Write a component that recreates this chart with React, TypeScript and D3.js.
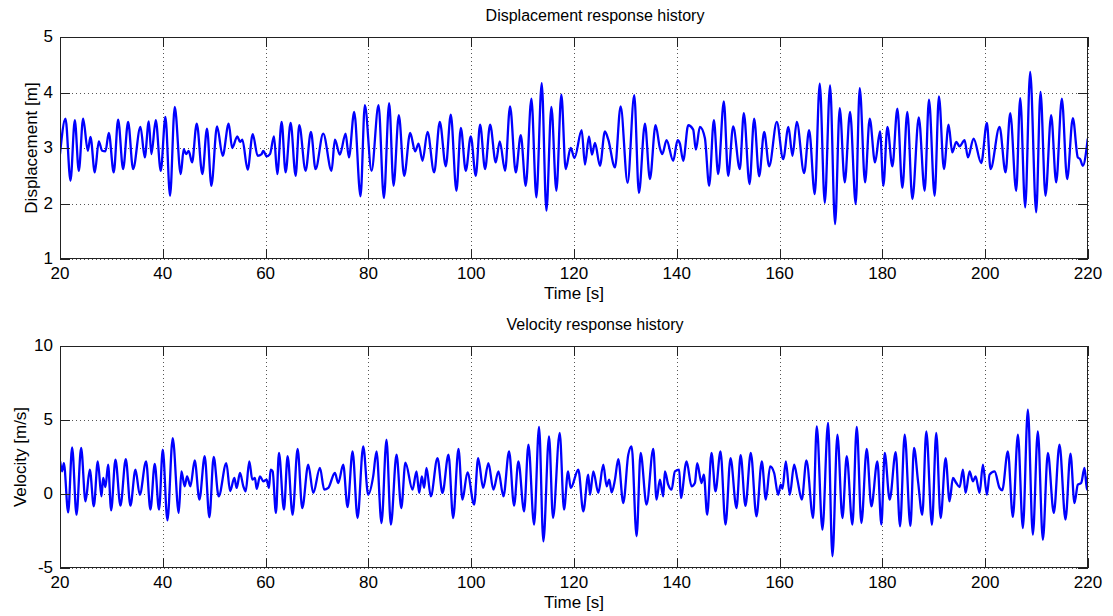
import React from "react";
import * as d3 from "d3";

// Displacement response: sampled turning points of the trace, time [s] and displacement [m]
const dispTime = [
  20.0, 21.07, 22.04, 22.88, 23.66, 24.5, 25.41, 25.93, 26.77, 27.55, 28.2, 28.84, 29.49, 30.46, 31.31,
  32.28, 33.25, 34.22, 35.65, 36.49, 37.27, 37.78, 38.63, 39.6, 40.51, 41.41, 42.32, 43.49, 44.07, 44.52,
  45.04, 45.69, 46.6, 47.7, 48.6, 49.45, 50.55, 51.65, 52.82, 53.5, 54.5, 55.02, 55.47, 56.51, 57.5,
  58.45, 59.23, 59.55, 60.2, 60.85, 61.63, 62.27, 63.12, 63.89, 64.87, 65.84, 66.55, 67.78, 68.82, 69.72,
  71.21, 72.83, 73.48, 74.45, 75.56, 76.2, 77.24, 78.47, 79.31, 80.61, 81.97, 83.01, 84.04, 84.89, 85.92,
  86.96, 88.13, 89.1, 89.75, 90.53, 91.5, 92.79, 93.89, 95.06, 96.03, 97.13, 97.98, 98.95, 99.92, 100.89,
  101.73, 102.7, 103.68, 104.78, 105.56, 106.59, 107.56, 108.67, 109.64, 110.61, 111.71, 112.68, 113.72,
  114.63, 115.6, 116.57, 117.54, 118.38, 119.35, 120.1, 121.49, 122.14, 122.91, 123.5, 124.08, 125.05,
  126.02, 126.67, 127.97, 129.07, 130.43, 131.72, 132.63, 133.8, 134.77, 135.87, 136.71, 137.17, 138.01,
  139.3, 140.15, 140.6, 141.25, 142.22, 143.19, 143.71, 144.49, 145.46, 146.3, 147.21, 148.05, 149.15,
  149.99, 150.97, 152.26, 153.04, 154.15, 155.05, 156.02, 157.0, 157.97, 159.46, 160.69, 161.72, 162.5,
  163.34, 164.77, 165.74, 166.84, 167.81, 168.79, 169.82, 170.79, 171.7, 172.67, 173.71, 174.81, 175.59,
  176.63, 177.53, 178.57, 179.54, 180.19, 180.97, 181.94, 182.91, 183.88, 184.85, 185.83, 187.08, 188.22,
  189.06, 190.16, 191.0, 191.97, 192.88, 193.59, 194.37, 195.02, 195.99, 196.64, 197.74, 199.23, 200.33,
  201.04, 202.79, 203.96, 204.87, 206.03, 206.81, 207.78, 208.75, 209.92, 210.76, 211.73, 212.83, 213.81,
  214.91, 215.94, 217.05, 218.02, 218.47, 218.99, 219.96,
];
const dispValue = [
  2.89, 3.53, 2.41, 3.5, 2.59, 3.53, 2.95, 3.2, 2.56, 3.12, 2.95, 2.94, 3.27, 2.56, 3.51,
  2.62, 3.47, 2.62, 3.38, 2.83, 3.48, 2.89, 3.5, 2.59, 3.56, 2.14, 3.74, 2.53, 2.98, 2.89,
  2.95, 2.74, 3.44, 2.53, 3.35, 2.32, 3.39, 2.86, 3.44, 3.0, 3.21, 3.11, 3.15, 2.61, 3.25,
  2.86, 2.89, 2.95, 2.85, 2.89, 3.21, 2.53, 3.47, 2.56, 3.45, 2.5, 3.41, 2.59, 3.29, 2.62,
  3.26, 2.59, 3.15, 2.88, 3.26, 2.83, 3.65, 2.13, 3.77, 2.59, 3.77, 2.1, 3.81, 2.32, 3.59,
  2.5, 3.27, 2.94, 3.08, 2.77, 3.29, 2.56, 3.47, 2.67, 3.6, 2.23, 3.36, 2.59, 3.21, 2.5,
  3.42, 2.62, 3.42, 2.74, 3.12, 2.59, 3.75, 2.56, 3.23, 2.32, 3.89, 2.11, 4.17,
  1.87, 3.74, 2.23, 3.96, 2.62, 3.0, 2.82, 3.32, 2.7, 3.21, 2.88, 3.09, 2.68,
  3.3, 3.15, 2.65, 3.75, 2.37, 3.95, 2.19, 3.44, 2.44, 3.41, 3.0, 2.89, 3.14,
  2.77, 3.14, 3.08, 2.77, 3.41, 3.33, 2.97, 3.38, 3.18, 2.32, 3.5, 2.53, 3.84,
  2.5, 3.39, 2.62, 3.63, 2.35, 3.53, 2.49, 3.29, 2.67, 3.47, 2.8, 3.38, 2.86,
  3.47, 2.55, 3.32, 2.17, 4.16, 2.01, 4.13, 1.63, 3.72, 2.38, 3.65, 1.99, 4.08,
  2.38, 3.53, 2.74, 3.3, 2.32, 3.38, 2.67, 3.71, 2.28, 3.65, 2.08, 3.55, 2.23,
  3.87, 2.14, 3.93, 2.62, 3.42, 2.92, 3.11, 3.03, 3.14, 2.83, 3.17, 2.73, 3.45,
  2.62, 3.38, 2.56, 3.63, 2.23, 3.9, 1.93, 4.37, 1.84, 4.01, 2.14, 3.59, 2.38,
  3.89, 2.44, 3.54, 2.83, 2.8, 2.68, 3.17,
];

// Velocity response: sampled turning points of the trace, time [s] and velocity [m/s]
const velTime = [
  20.03, 20.42, 20.75, 21.59, 22.36, 23.21, 24.11, 24.96, 25.8, 26.58, 27.35, 28.07, 28.39, 28.84, 29.36,
  29.95, 30.79, 31.76, 32.8, 33.7, 34.68, 35.52, 36.75, 37.59, 38.43, 39.27, 39.99, 40.9, 41.93, 43.1,
  43.62, 44.26, 44.72, 45.37, 46.21, 47.12, 48.15, 49.06, 49.9, 50.87, 52.36, 53.1, 53.92, 54.37, 55.02,
  55.67, 56.12, 56.83, 57.41, 57.93, 58.26, 58.9, 59.55, 60.2, 60.65, 60.98, 61.37, 62.01, 62.6, 63.57,
  64.28, 65.25, 66.23, 67.13, 68.3, 69.27, 70.57, 71.41, 72.19, 73.48, 74.13, 75.1, 75.94, 76.92, 77.89,
  78.99, 79.96, 80.93, 81.58, 82.55, 83.52, 84.37, 85.47, 86.4, 87.2, 88.58, 89.36, 89.88, 90.4, 90.85,
  91.3, 92.14, 93.44, 94.41, 95.58, 96.49, 97.52, 98.3, 99.27, 100.57, 101.35, 102.32, 103.35, 104.32,
  105.3, 106.27, 107.37, 108.34, 109.18, 110.29, 111.13, 112.23, 113.2, 114.04, 115.14, 115.92, 117.22,
  118.06, 118.84, 119.36, 120.84, 121.81, 122.78, 123.11, 123.76, 124.73, 125.7, 126.35, 126.86, 127.32,
  127.97, 128.61, 129.59, 130.56, 131.21, 132.18, 132.96, 134.12, 135.42, 136.06, 136.71, 137.36, 137.68,
  138.33, 138.98, 139.63, 140.47, 140.79, 141.9, 142.87, 143.52, 143.97, 144.81, 145.26, 145.91, 146.75,
  147.53, 148.5, 149.48, 150.45, 151.61, 152.42, 153.35, 154.4, 155.5, 156.54, 157.32, 158.16, 158.94,
  159.72, 160.23, 160.56, 161.21, 161.98, 162.83, 163.47, 164.32, 165.22, 166.52, 167.23, 168.33, 169.43,
  170.28, 171.25, 172.22, 173.06, 174.16, 175.01, 175.91, 176.95, 177.86, 179.02, 179.8, 180.45, 181.42,
  182.59, 183.43, 184.34, 185.45, 186.15, 186.95, 187.76, 188.54, 189.64, 190.48, 191.33, 192.3, 193.07,
  193.72, 194.37, 195.02, 195.67, 196.18, 196.96, 197.61, 198.13, 198.91, 199.55, 200.33, 200.85, 201.82,
  202.79, 203.31, 204.41, 205.38, 206.36, 207.33, 208.3, 209.27, 210.24, 211.22, 212.19, 213.35, 214.45,
  215.62, 216.59, 217.37, 218.02, 218.67, 219.32, 219.8, 220.0,
];
const velValue = [
  2.21, 1.53, 2.09, -1.24, 3.15, -1.4, 3.11, -0.5, 1.64, -0.83, 2.21, -0.16, 1.08, 0.47, 1.98,
  -1.1, 2.32, -0.79, 2.36, -0.79, 1.64, -0.05, 2.21, -1.06, 2.03, -1.06, 3.0, -1.78, 3.78, -1.28,
  1.53, 0.52, 1.19, 0.52, 2.27, -0.38, 2.55, -1.58, 2.5, -0.16, 2.09, 0.2, 1.08, 0.41, 1.42,
  0.52, 0.18, 2.21, 0.97, 1.08, 0.34, 1.19, 0.86, 0.97, 0.41, 1.64, 1.53, -1.28, 2.77, -1.06,
  2.55, -1.4, 3.04, -0.95, 1.98, 0.07, 1.76, 0.29, 0.41, 1.42, 0.74, 1.98, -0.88, 2.88, -1.62,
  3.22, -0.05, 1.19, 2.88, -1.96, 3.67, -2.07, 2.66, -0.95, 2.12, 0.29, 1.53, 0.07, 1.19, 0.41,
  1.76, -0.16, 2.43, 0.07, 2.66, -1.62, 3.04, -0.38, 1.46, -0.72, 2.43, 0.41, 2.09, 0.29,
  1.53, -0.16, 2.88, -0.79, 2.21, -1.17, 3.33, -2.07, 4.53, -3.2, 3.9, -1.62, 4.12,
  -1.06, 1.53, 0.41, 1.64, -1.17, 1.31, -0.05, 1.53, 0.07, 1.98, 0.52, 0.97, 0.11,
  0.97, 2.36, -0.61, 2.66, 3.22, -2.86, 2.77, -0.72, 3.04, -0.38, 0.97, -0.16, 1.53,
  0.63, 0.29, 1.53, 1.64, -0.27, 2.21, 0.52, 0.74, 2.09, 0.74, 1.31, -1.4, 2.77,
  0.18, 2.88, -2.07, 2.43, -0.95, 2.62, -0.8, 2.78, -1.51, 2.21, -0.38, 1.87, 1.42,
  -0.05, 0.63, 0.34, 2.21, -0.05, 1.98, 0.97, -0.38, 2.27, -1.62, 4.57, -2.41, 4.8,
  -4.21, 4.01, -1.62, 2.55, -2.07, 4.53, -1.96, 3.04, -0.83, 2.21, -2.07, 2.77, -0.38,
  2.82, -2.18, 4.01, -2.15, 3.11, 0.8, -1.4, 4.23, -2.07, 4.12, -1.62, 2.43, -0.5,
  1.08, 0.74, 0.47, 1.64, 0.07, 1.53, 0.86, 1.19, 0.07, 1.98, -0.05, 1.31, 1.53,
  0.41, 0.25, 2.88, -1.55, 4.01, -2.3, 5.7, -2.75, 4.23, -3.09, 2.77, -1.28, 3.33,
  -1.73, 2.73, -0.61, 0.63, 0.74, 1.76, 0.29, 1.2,
];

const timeTicks = [20, 40, 60, 80, 100, 120, 140, 160, 180, 200, 220];
const dispTicks = [1, 2, 3, 4, 5];
const velTicks = [-5, 0, 5, 10];

const FONT = "'Liberation Sans', Arial, Helvetica, sans-serif";
const W = 1113;
const H = 616;
const LEFT = 60;
const RIGHT = 1088;
const TITLE_X = 595;

type PanelProps = {
  top: number;
  bottom: number;
  yDomain: [number, number];
  yTicks: number[];
  times: number[];
  values: number[];
  title: string;
  yLabel: string;
  yLabelX: number;
};

function Panel({ top, bottom, yDomain, yTicks, times, values, title, yLabel, yLabelX }: PanelProps) {
  const x = d3.scaleLinear().domain([20, 220]).range([LEFT, RIGHT]);
  const y = d3.scaleLinear().domain(yDomain).range([bottom, top]);
  const pts = times.map((t, i) => [t, values[i]] as [number, number]);
  const path = d3
    .line<[number, number]>()
    .x((d) => x(d[0]))
    .y((d) => y(d[1]))
    .curve(d3.curveMonotoneX)(pts) as string;
  const tickLen = 10;
  const midY = (top + bottom) / 2;
  const clipId = `clip-${top}`;
  return (
    <g>
      <defs>
        <clipPath id={clipId}>
          <rect x={LEFT} y={top} width={RIGHT - LEFT} height={bottom - top} />
        </clipPath>
      </defs>
      {/* dotted grid */}
      {timeTicks.map((t) => (
        <line
          key={`gx${t}`}
          x1={Math.round(x(t)) + 0.5}
          x2={Math.round(x(t)) + 0.5}
          y1={top}
          y2={bottom}
          stroke="#555"
          strokeWidth={1}
          strokeDasharray="1 3"
        />
      ))}
      {yTicks.map((v) => (
        <line
          key={`gy${v}`}
          x1={LEFT}
          x2={RIGHT}
          y1={Math.round(y(v)) + 0.5}
          y2={Math.round(y(v)) + 0.5}
          stroke="#555"
          strokeWidth={1}
          strokeDasharray="1 3"
        />
      ))}
      {/* signal */}
      <path d={path} fill="none" stroke="#0000ff" strokeWidth={2.3} strokeLinejoin="round" clipPath={`url(#${clipId})`} />
      {/* inward ticks on all four sides */}
      {timeTicks.map((t) => (
        <g key={`tx${t}`}>
          <line x1={Math.round(x(t)) + 0.5} x2={Math.round(x(t)) + 0.5} y1={bottom} y2={bottom - tickLen} stroke="#222" />
          <line x1={Math.round(x(t)) + 0.5} x2={Math.round(x(t)) + 0.5} y1={top} y2={top + tickLen} stroke="#222" />
        </g>
      ))}
      {yTicks.map((v) => (
        <g key={`ty${v}`}>
          <line x1={LEFT} x2={LEFT + tickLen} y1={Math.round(y(v)) + 0.5} y2={Math.round(y(v)) + 0.5} stroke="#222" />
          <line x1={RIGHT} x2={RIGHT - tickLen} y1={Math.round(y(v)) + 0.5} y2={Math.round(y(v)) + 0.5} stroke="#222" />
        </g>
      ))}
      {/* box */}
      <rect x={LEFT + 0.5} y={top + 0.5} width={RIGHT - LEFT - 1} height={bottom - top - 1} fill="none" stroke="#222" strokeWidth={1} />
      {/* tick labels */}
      {timeTicks.map((t) => (
        <text key={`lx${t}`} x={x(t)} y={bottom + 20} textAnchor="middle" fontSize={17} fontFamily={FONT} fill="#000">
          {t}
        </text>
      ))}
      {yTicks.map((v) => (
        <text key={`ly${v}`} x={LEFT - 7} y={y(v) + 5} textAnchor="end" fontSize={17} fontFamily={FONT} fill="#000">
          {v}
        </text>
      ))}
      {/* labels */}
      <text x={(LEFT + RIGHT) / 2} y={bottom + 40} textAnchor="middle" fontSize={17} fontFamily={FONT} fill="#000">
        Time [s]
      </text>
      <text x={TITLE_X} y={top - 16} textAnchor="middle" fontSize={16} fontFamily={FONT} fill="#000">
        {title}
      </text>
      <text
        transform={`translate(${yLabelX},${midY}) rotate(-90)`}
        textAnchor="middle"
        fontSize={17}
        fontFamily={FONT}
        fill="#000"
      >
        {yLabel}
      </text>
    </g>
  );
}

export default function App() {
  return (
    <svg
      width={W}
      height={H}
      viewBox={`0 0 ${W} ${H}`}
      style={{ position: "absolute", left: 0, top: 0, background: "#fff", display: "block" }}
    >
      <rect x={0} y={0} width={W} height={H} fill="#fff" />
      <Panel
        top={37}
        bottom={259}
        yDomain={[1, 5]}
        yTicks={dispTicks}
        times={dispTime}
        values={dispValue}
        title="Displacement response history"
        yLabel="Displacement [m]"
        yLabelX={37}
      />
      <Panel
        top={346}
        bottom={568}
        yDomain={[-5, 10]}
        yTicks={velTicks}
        times={velTime}
        values={velValue}
        title="Velocity response history"
        yLabel="Velocity [m/s]"
        yLabelX={26}
      />
    </svg>
  );
}
